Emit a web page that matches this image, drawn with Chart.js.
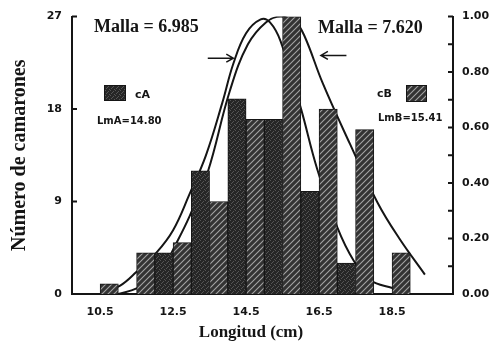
<!DOCTYPE html>
<html>
<head>
<meta charset="utf-8">
<script src="https://cdn.jsdelivr.net/npm/chart.js@4"></script>
<style>
  html, body { margin: 0; padding: 0; background: #fff; }
</style>
</head>
<body>
<canvas id="chart" width="492" height="345"></canvas>
<script>
// === DATA ===
const lengths = [10.5, 11.5, 12.5, 13.5, 14.5, 15.5, 16.5, 17.5, 18.5];
const countA = [0, 0, 4, 12, 19, 17, 10, 3, 0];
const countB = [1, 4, 5, 9, 17, 27, 18, 16, 4];

// selection curves (right axis, 0-1)
const curveAx = [10.5, 11.05, 11.5, 12.05, 12.5, 12.95, 13.4, 13.85, 14.15, 14.5, 14.9, 15.15, 15.45, 16.0, 16.45, 17.0, 17.45, 17.9, 18.55];
const curveAy = [0.00, 0.03, 0.08, 0.15, 0.23, 0.36, 0.50, 0.69, 0.83, 0.94, 0.99, 0.98, 0.91, 0.67, 0.45, 0.24, 0.12, 0.05, 0.02];
const curveBx = [11.0, 11.5, 11.95, 12.3, 12.5, 12.95, 13.45, 14.05, 14.55, 15.05, 15.45, 15.85, 16.1, 16.6, 17.35, 18.1, 18.7, 19.4];
const curveBy = [0.00, 0.02, 0.06, 0.11, 0.16, 0.28, 0.44, 0.73, 0.90, 0.98, 1.00, 0.98, 0.93, 0.76, 0.54, 0.33, 0.20, 0.07];

const xTicks = [10.5, 12.5, 14.5, 16.5, 18.5];
const leftTicks = [0, 9, 18, 27];

const INK = "#151515";
const tickFont = { family: "DejaVu Sans", size: 11, weight: "bold" };

// === PATTERNS ===
function makeHatch() {
  const c = document.createElement("canvas");
  c.width = 6; c.height = 6;
  const g = c.getContext("2d");
  g.fillStyle = "#333333";
  g.fillRect(0, 0, 6, 6);
  g.strokeStyle = "#a4a4a4";
  g.lineWidth = 1.1;
  g.beginPath();
  g.moveTo(-1, 7); g.lineTo(7, -1);
  g.moveTo(-1, 1); g.lineTo(1, -1);
  g.moveTo(5, 7); g.lineTo(7, 5);
  g.stroke();
  return g.createPattern(c, "repeat");
}

function makeSpeckle() {
  const c = document.createElement("canvas");
  c.width = 5; c.height = 5;
  const g = c.getContext("2d");
  g.fillStyle = "#262626";
  g.fillRect(0, 0, 5, 5);
  g.fillStyle = "#555555";
  [[0, 0], [3, 1], [1, 3], [4, 4], [2, 2]].forEach(([x, y]) => g.fillRect(x, y, 1, 1));
  return g.createPattern(c, "repeat");
}

const hatch = makeHatch();
const speckle = makeSpeckle();

// === EXTRAS: inner ticks, texts, arrows, legend ===
const extras = {
  id: "extras",
  afterDraw(chart) {
    const ctx = chart.ctx;
    const { left, right } = chart.chartArea;
    const y = chart.scales.y, y1 = chart.scales.y1, x = chart.scales.x;
    ctx.save();
    ctx.strokeStyle = INK;
    ctx.lineWidth = 2;
    ctx.beginPath();
    leftTicks.forEach(v => {
      const py = y.getPixelForValue(v);
      ctx.moveTo(left, py); ctx.lineTo(left + 5, py);
    });
    y1.ticks.forEach(t => {
      const py = y1.getPixelForValue(t.value);
      ctx.moveTo(right, py); ctx.lineTo(right - 5, py);
    });
    ctx.stroke();

    // arrows
    function arrow(x0, x1, v) {
      const py = y1.getPixelForValue(v);
      const a = x.getPixelForValue(x0), b = x.getPixelForValue(x1);
      const dir = b > a ? 1 : -1;
      ctx.lineWidth = 1.5;
      ctx.beginPath();
      ctx.moveTo(a, py); ctx.lineTo(b, py);
      ctx.moveTo(b - dir * 7, py - 4); ctx.lineTo(b, py); ctx.lineTo(b - dir * 7, py + 4);
      ctx.stroke();
    }
    arrow(13.45, 14.15, 0.85);
    arrow(17.25, 16.55, 0.86);

    ctx.fillStyle = INK;
    ctx.textBaseline = "middle";
    ctx.font = 'bold 18px "Liberation Serif"';
    ctx.textAlign = "left";
    ctx.fillText("Malla = 6.985", 94, 27);
    ctx.fillText("Malla = 7.620", 318, 28);

    ctx.font = 'bold 17px "Liberation Serif"';
    ctx.textAlign = "center";
    ctx.fillText("Longitud (cm)", 251, 333);

    // legend
    ctx.fillStyle = speckle;
    ctx.fillRect(104, 85, 22, 16);
    ctx.fillStyle = hatch;
    ctx.fillRect(406, 85, 21, 17);
    ctx.lineWidth = 1;
    ctx.strokeRect(104.5, 85.5, 21, 15);
    ctx.strokeRect(406.5, 85.5, 20, 16);

    ctx.fillStyle = INK;
    ctx.textAlign = "left";
    ctx.font = 'bold 11px "DejaVu Sans"';
    ctx.fillText("cA", 135, 95);
    ctx.fillText("cB", 377, 94);
    ctx.font = 'bold 10px "DejaVu Sans"';
    ctx.fillText("LmA=14.80", 97, 121);
    ctx.fillText("LmB=15.41", 378, 118);
    ctx.restore();
  }
};

// === CHART ===
new Chart(document.getElementById("chart"), {
  type: "bar",
  data: {
    datasets: [
      {
        label: "cA",
        data: lengths.map((l, i) => ({ x: l, y: countA[i] })),
        backgroundColor: speckle,
        borderColor: INK,
        borderWidth: 1,
        yAxisID: "y",
        order: 1
      },
      {
        label: "cB",
        data: lengths.map((l, i) => ({ x: l, y: countB[i] })),
        backgroundColor: hatch,
        borderColor: INK,
        borderWidth: 1,
        yAxisID: "y",
        order: 1
      },
      {
        type: "line",
        label: "curva A",
        data: curveAx.map((v, i) => ({ x: v, y: curveAy[i] })),
        borderColor: INK,
        borderWidth: 2,
        pointRadius: 0,
        tension: 0.4,
        yAxisID: "y1",
        order: 2
      },
      {
        type: "line",
        label: "curva B",
        data: curveBx.map((v, i) => ({ x: v, y: curveBy[i] })),
        borderColor: INK,
        borderWidth: 2,
        pointRadius: 0,
        tension: 0.4,
        yAxisID: "y1",
        order: 2
      }
    ]
  },
  options: {
    responsive: false,
    animation: false,
    devicePixelRatio: 1,
    layout: { padding: { top: 14, left: 0, right: 0, bottom: 0 } },
    plugins: { legend: { display: false }, tooltip: { enabled: false } },
    datasets: { bar: { categoryPercentage: 1, barPercentage: 1 } },
    scales: {
      x: {
        type: "linear",
        min: 9.73,
        max: 20.17,
        offset: false,
        grid: { display: false, drawTicks: false },
        border: { display: true, color: INK, width: 2 },
        ticks: {
          padding: 12, color: INK, font: tickFont, autoSkip: false, maxRotation: 0,
          callback: v => v.toFixed(1)
        },
        afterBuildTicks: s => { s.ticks = xTicks.map(v => ({ value: v })); },
        afterFit: s => { s.height = 51; }
      },
      y: {
        position: "left",
        min: 0,
        max: 27,
        grid: { display: false, drawTicks: false },
        border: { display: true, color: INK, width: 2 },
        ticks: { padding: 10, color: INK, font: tickFont },
        afterBuildTicks: s => { s.ticks = leftTicks.map(v => ({ value: v })); },
        title: {
          display: true,
          text: "Número de camarones",
          color: INK,
          font: { family: "Liberation Serif", size: 20, weight: "bold" },
          padding: { top: 8, bottom: 0 }
        },
        afterFit: s => { s.width = 72; }
      },
      y1: {
        position: "right",
        min: 0,
        max: 1,
        grid: { display: false, drawTicks: false },
        border: { display: true, color: INK, width: 2 },
        ticks: {
          stepSize: 0.1, padding: 9, color: INK, font: tickFont,
          callback: v => (Math.round(v * 10) % 2 === 0 ? v.toFixed(2) : "")
        },
        afterFit: s => { s.width = 39; }
      }
    }
  },
  plugins: [extras]
});
</script>
</body>
</html>
